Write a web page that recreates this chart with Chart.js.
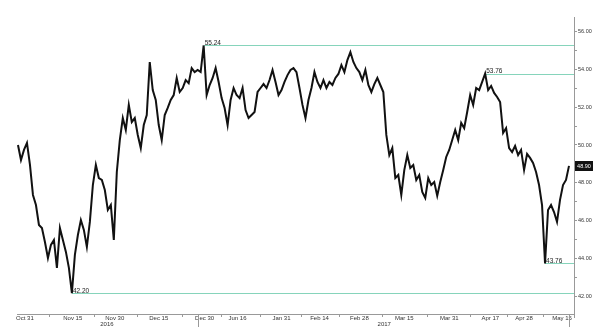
<!DOCTYPE html>
<html lang="en">
<head>
<meta charset="UTF-8">
<title>Price history</title>
<script src="https://cdn.jsdelivr.net/npm/chart.js"></script>
<style>
    body { margin: 0; background: #fff; }
    #chartContainer { width: 600px; height: 335px; }
</style>
</head>
<body>
<div id="chartContainer"><canvas id="chartCanvas" width="600" height="335"></canvas></div>
<script>
    // price per bar
    const prices = [
        50.00, 49.21, 49.74, 50.11, 48.95, 47.37, 46.84, 45.79, 45.63, 44.89,
        44.05, 44.74, 45.00, 43.53, 45.63, 45.00, 44.37, 43.53, 42.20, 44.21,
        45.26, 46.05, 45.53, 44.63, 45.95, 47.89, 48.95, 48.26, 48.16, 47.63,
        46.58, 46.84, 45.00, 48.58, 50.26, 51.42, 50.79, 52.11, 51.21, 51.42,
        50.53, 49.84, 51.05, 51.58, 54.37, 52.89, 52.37, 51.05, 50.26, 51.58,
        51.95, 52.37, 52.63, 53.53, 52.79, 53.00, 53.42, 53.26, 54.05, 53.84,
        53.95, 53.84, 55.24, 52.63, 53.16, 53.53, 54.05, 53.32, 52.47, 51.95,
        51.05, 52.37, 53.00, 52.63, 52.47, 53.00, 51.84, 51.42, 51.58, 51.74,
        52.79, 53.00, 53.21, 53.00, 53.42, 53.95, 53.32, 52.63, 52.89, 53.32,
        53.68, 53.95, 54.05, 53.84, 53.00, 52.11, 51.42, 52.37, 53.00, 53.84,
        53.32, 53.00, 53.42, 53.00, 53.32, 53.16, 53.53, 53.74, 54.21, 53.84,
        54.47, 54.89, 54.37, 54.05, 53.84, 53.42, 53.95, 53.16, 52.79, 53.21,
        53.53, 53.16, 52.79, 50.53, 49.47, 49.84, 48.26, 48.42, 47.37, 48.68,
        49.47, 48.79, 48.95, 48.16, 48.42, 47.53, 47.21, 48.26, 47.89, 48.05,
        47.32, 48.05, 48.68, 49.37, 49.74, 50.26, 50.79, 50.26, 51.16, 50.89,
        51.74, 52.63, 52.11, 53.00, 52.89, 53.32, 53.76, 52.89, 53.11, 52.74,
        52.53, 52.26, 50.63, 50.89, 49.84, 49.63, 49.95, 49.47, 49.74, 48.68,
        49.53, 49.32, 49.05, 48.58, 47.89, 46.84, 43.76, 46.58, 46.84, 46.47,
        45.95, 47.11, 47.89, 48.16, 48.90
    ];

    const dateLabels = ['Oct 31', 'Nov 15', 'Nov 30', 'Dec 15', 'Dec 30', 'Jun 16', 'Jan 31',
                        'Feb 14', 'Feb 28', 'Mar 15', 'Mar 31', 'Apr 17', 'Apr 28', 'May 15'];
    const datePos = [2.3, 18.3, 32.3, 47, 62.3, 73.3, 88, 100.7, 114, 129, 144, 157.7, 169, 181.7];
    const yearLabels = ['2016', '2017'];
    const yearPos = [29.7, 122.3];
    const sessionBreaks = [60, 184];
    // bars whose value gets a flat reference line
    const markIdx = [62, 156, 18, 176];

    const smallFont = '6px "Liberation Sans", Arial, sans-serif';

    const overlay = {
        id: 'overlay',
        beforeDatasetsDraw(chart) {
            const { ctx, chartArea, scales: { x, y } } = chart;
            ctx.save();
            ctx.fillStyle = '#86d4bb';
            markIdx.forEach(i => {
                const px = Math.round(x.getPixelForValue(i));
                const py = Math.round(y.getPixelForValue(prices[i]));
                ctx.fillRect(px, py, chartArea.right - px, 1);
            });
            ctx.restore();
        },
        afterDraw(chart) {
            const { ctx, chartArea, scales: { x, y } } = chart;
            ctx.save();

            // value labels on the reference lines
            ctx.fillStyle = '#222';
            ctx.font = '6.5px "Liberation Sans", Arial, sans-serif';
            ctx.textAlign = 'left';
            ctx.textBaseline = 'bottom';
            markIdx.forEach(i => {
                const px = x.getPixelForValue(i);
                const py = y.getPixelForValue(prices[i]);
                ctx.fillText(prices[i].toFixed(2), px + 1, py + 1);
            });

            // small ticks between the date labels
            ctx.strokeStyle = '#999';
            ctx.lineWidth = 1;
            for (let k = 0; k < datePos.length - 1; k++) {
                const px = Math.round(x.getPixelForValue((datePos[k] + datePos[k + 1]) / 2)) + 0.5;
                ctx.beginPath();
                ctx.moveTo(px, chartArea.bottom);
                ctx.lineTo(px, chartArea.bottom + 3);
                ctx.stroke();
            }
            sessionBreaks.forEach(b => {
                const px = Math.round(x.getPixelForValue(b)) + 0.5;
                ctx.beginPath();
                ctx.moveTo(px, chartArea.bottom);
                ctx.lineTo(px, chartArea.bottom + 13);
                ctx.stroke();
            });
            // y axis runs a little below the x axis
            ctx.beginPath();
            ctx.moveTo(chartArea.right + 0.5, chartArea.bottom);
            ctx.lineTo(chartArea.right + 0.5, chartArea.bottom + 4);
            ctx.stroke();

            // years
            ctx.fillStyle = '#333';
            ctx.font = smallFont;
            ctx.textAlign = 'center';
            ctx.textBaseline = 'middle';
            yearPos.forEach((p, k) => {
                ctx.fillText(yearLabels[k], x.getPixelForValue(p), chartArea.bottom + 10);
            });

            // last value tag
            const last = prices[prices.length - 1];
            const ly = Math.round(y.getPixelForValue(last));
            ctx.fillStyle = '#111';
            ctx.fillRect(chartArea.right + 1, ly - 5, 18, 10);
            ctx.fillStyle = '#fff';
            ctx.font = '5.5px "Liberation Sans", Arial, sans-serif';
            ctx.fillText(last.toFixed(2), chartArea.right + 10, ly);
            ctx.restore();
        }
    };

    const ctx = document.getElementById('chartCanvas').getContext('2d');
    new Chart(ctx, {
        type: 'line',
        data: {
            datasets: [{
                data: prices.map((v, i) => ({ x: i, y: v })),
                borderColor: '#111',
                borderWidth: 2,
                pointRadius: 0,
                tension: 0,
                fill: false
            }]
        },
        options: {
            responsive: false,
            animation: false,
            layout: { padding: { left: 17, top: 17, right: 0, bottom: 0 } },
            plugins: {
                legend: { display: false },
                tooltip: { enabled: false }
            },
            scales: {
                x: {
                    type: 'linear',
                    min: -0.33,
                    max: 185.67,
                    afterBuildTicks: s => { s.ticks = datePos.map(v => ({ value: v })); },
                    afterFit: s => { s.height = 21; },
                    ticks: {
                        autoSkip: false,
                        maxRotation: 0,
                        padding: 1,
                        color: '#333',
                        font: { family: '"Liberation Sans", Arial, sans-serif', size: 6 },
                        callback: (v, i) => dateLabels[i]
                    },
                    grid: { drawOnChartArea: false, drawTicks: false },
                    border: { color: '#999' }
                },
                y: {
                    position: 'right',
                    min: 41.1,
                    max: 56.74,
                    afterFit: s => { s.width = 26; },
                    ticks: {
                        stepSize: 1,
                        includeBounds: false,
                        padding: 1,
                        color: '#333',
                        font: { family: '"Liberation Sans", Arial, sans-serif', size: 5.5 },
                        callback: v => (v % 2 === 0 ? v.toFixed(2) : '')
                    },
                    grid: { drawOnChartArea: false, tickLength: 3, color: '#999' },
                    border: { color: '#999' }
                }
            }
        },
        plugins: [overlay]
    });
</script>
</body>
</html>
